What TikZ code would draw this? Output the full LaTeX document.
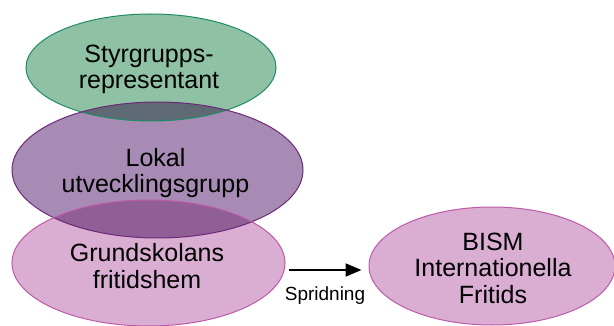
\documentclass[tikz,border=0pt]{standalone}
\usepackage{fontspec}
\setmainfont{Liberation Sans}
\usetikzlibrary{shapes.geometric,arrows.meta}
\definecolor{gfill}{RGB}{143,193,165}
\definecolor{gdraw}{RGB}{30,140,100}
\definecolor{pfill}{RGB}{168,139,181}
\definecolor{pdraw}{RGB}{110,40,120}
\definecolor{kfill}{RGB}{218,174,210}
\definecolor{kdraw}{RGB}{190,90,170}
\definecolor{gpover}{RGB}{94,105,116}
\definecolor{ppover}{RGB}{144,95,149}
\tikzset{
  oval/.style={ellipse, inner sep=0pt, line width=1pt},
  txt/.style={inner sep=0pt, align=center, font=\fontsize{25}{26.5}\selectfont},
  lbl/.style={font=\fontsize{19}{21}\selectfont, inner sep=0pt},
  arr/.style={-{Triangle[length=16pt,width=13pt]}, line width=2pt}
}
\begin{document}
\begin{tikzpicture}[x=1pt,y=-1pt]
\useasboundingbox (0,0) rectangle (614,326);
% fills
\fill[gfill] (151,67.5) ellipse [x radius=125, y radius=53.5];
\fill[pfill] (157.5,170) ellipse [x radius=145.5, y radius=68];
\fill[kfill] (148.5,263) ellipse [x radius=136.5, y radius=63];
% overlaps (multiply)
\begin{scope}
  \clip (151,67.5) ellipse [x radius=125, y radius=53.5];
  \fill[gpover] (157.5,170) ellipse [x radius=145.5, y radius=68];
\end{scope}
\begin{scope}
  \clip (157.5,170) ellipse [x radius=145.5, y radius=68];
  \fill[ppover] (148.5,263) ellipse [x radius=136.5, y radius=63];
\end{scope}
% outlined nodes
\node[oval, draw=gdraw, minimum width=250pt, minimum height=107pt] (s) at (151,67.5) {};
\node[oval, draw=pdraw, minimum width=291pt, minimum height=136pt] (l) at (157.5,170) {};
\node[oval, draw=kdraw, minimum width=273pt, minimum height=126pt] (g) at (148.5,263) {};
\node[oval, draw=kdraw, fill=kfill, minimum width=246pt, minimum height=118pt] (b) at (492,266) {};
% texts
\node[txt] (st) at ([xshift=-2pt,yshift=-2pt]s.center) {Styrgrupps-\\representant};
\node[txt] (lt) at ([xshift=-2pt,yshift=-3pt]l.center) {Lokal\\utvecklingsgrupp};
\node[txt] (gt) at ([xshift=-1.5pt,yshift=-3pt]g.center) {Grundskolans\\fritidshem};
\node[txt] (bt) at ([xshift=1pt,yshift=-2pt]b.center) {BISM\\Internationella\\Fritids};
% arrow
\draw[arr] ([xshift=3pt,yshift=-7pt]g.east) -- ([xshift=-7pt,yshift=-4pt]b.west) node[lbl, midway, below=16pt] (sp) {Spridning};
\end{tikzpicture}
\end{document}
